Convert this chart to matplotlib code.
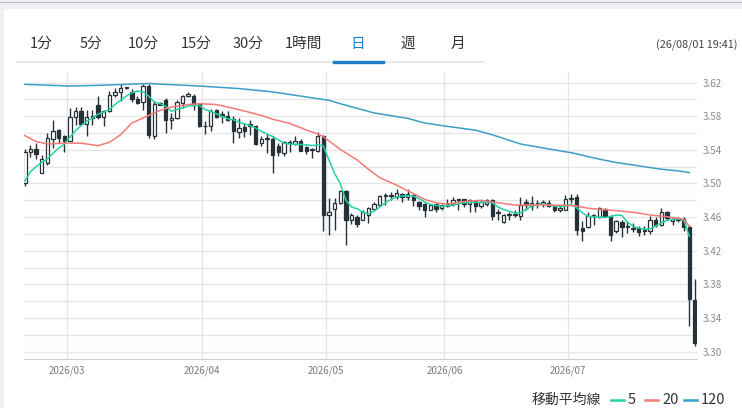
import matplotlib.pyplot as plt
from matplotlib.lines import Line2D
from matplotlib.patches import Rectangle
import numpy as np

plt.rcParams['font.family'] = ['Noto Sans CJK JP', 'DejaVu Sans']

W, H = 742, 408

# daily OHLC, one entry per candle
opens = [
    3.500, 3.537, 3.541, 3.513, 3.524, 3.553, 3.564, 3.556, 3.551, 3.579,
    3.586, 3.571, 3.578, 3.593, 3.579, 3.586, 3.605, 3.609, 3.614, 3.609,
    3.601, 3.597, 3.616, 3.557, 3.596, 3.599, 3.575, 3.578, 3.596, 3.604,
    3.604, 3.595, 3.569, 3.569, 3.588, 3.583, 3.580, 3.577, 3.561, 3.567,
    3.571, 3.569, 3.548, 3.553, 3.553, 3.545, 3.536, 3.548, 3.547, 3.550,
    3.544, 3.540, 3.539, 3.557, 3.463, 3.470, 3.477, 3.491, 3.456, 3.460,
    3.457, 3.462, 3.470, 3.474, 3.485, 3.485, 3.484, 3.488, 3.484, 3.486,
    3.478, 3.476, 3.469, 3.475, 3.471, 3.473, 3.476, 3.481, 3.481, 3.476,
    3.479, 3.473, 3.476, 3.480, 3.466, 3.454, 3.462, 3.464, 3.461, 3.478,
    3.473, 3.476, 3.476, 3.477, 3.473, 3.468, 3.469, 3.482, 3.484, 3.447,
    3.448, 3.462, 3.460, 3.470, 3.461, 3.443, 3.454, 3.448, 3.447, 3.447,
    3.445, 3.443, 3.457, 3.451, 3.466, 3.455, 3.458, 3.458, 3.448, 3.361,
]
highs = [
    3.541, 3.546, 3.548, 3.534, 3.560, 3.575, 3.565, 3.558, 3.590, 3.591,
    3.591, 3.587, 3.587, 3.604, 3.588, 3.610, 3.614, 3.618, 3.615, 3.612,
    3.604, 3.619, 3.618, 3.598, 3.597, 3.602, 3.584, 3.599, 3.605, 3.609,
    3.606, 3.596, 3.574, 3.589, 3.589, 3.586, 3.586, 3.580, 3.578, 3.572,
    3.576, 3.570, 3.557, 3.559, 3.556, 3.548, 3.550, 3.552, 3.556, 3.553,
    3.545, 3.542, 3.561, 3.558, 3.483, 3.483, 3.492, 3.492, 3.465, 3.463,
    3.468, 3.472, 3.478, 3.486, 3.489, 3.490, 3.493, 3.489, 3.493, 3.487,
    3.479, 3.477, 3.476, 3.477, 3.476, 3.481, 3.484, 3.482, 3.482, 3.482,
    3.480, 3.480, 3.481, 3.481, 3.470, 3.464, 3.466, 3.469, 3.484, 3.482,
    3.485, 3.480, 3.480, 3.480, 3.474, 3.473, 3.486, 3.488, 3.487, 3.455,
    3.466, 3.464, 3.472, 3.471, 3.462, 3.456, 3.457, 3.455, 3.453, 3.449,
    3.449, 3.461, 3.460, 3.471, 3.467, 3.460, 3.460, 3.460, 3.450, 3.386,
]
lows = [
    3.497, 3.531, 3.529, 3.512, 3.522, 3.542, 3.548, 3.537, 3.550, 3.570,
    3.570, 3.557, 3.570, 3.577, 3.569, 3.585, 3.603, 3.598, 3.613, 3.597,
    3.595, 3.587, 3.554, 3.553, 3.593, 3.560, 3.565, 3.577, 3.590, 3.603,
    3.588, 3.567, 3.559, 3.562, 3.578, 3.572, 3.574, 3.548, 3.554, 3.555,
    3.558, 3.546, 3.545, 3.536, 3.513, 3.533, 3.533, 3.538, 3.546, 3.539,
    3.535, 3.530, 3.538, 3.443, 3.439, 3.445, 3.476, 3.427, 3.452, 3.448,
    3.456, 3.453, 3.468, 3.473, 3.474, 3.480, 3.482, 3.478, 3.480, 3.473,
    3.469, 3.460, 3.468, 3.466, 3.469, 3.472, 3.473, 3.468, 3.472, 3.466,
    3.466, 3.471, 3.473, 3.457, 3.457, 3.453, 3.457, 3.460, 3.456, 3.469,
    3.469, 3.471, 3.472, 3.472, 3.466, 3.466, 3.468, 3.477, 3.439, 3.431,
    3.447, 3.450, 3.459, 3.460, 3.432, 3.441, 3.436, 3.441, 3.442, 3.438,
    3.439, 3.440, 3.448, 3.449, 3.457, 3.450, 3.454, 3.444, 3.330, 3.306,
]
closes = [
    3.538, 3.541, 3.535, 3.529, 3.554, 3.563, 3.554, 3.551, 3.579, 3.586,
    3.571, 3.579, 3.580, 3.579, 3.586, 3.605, 3.609, 3.614, 3.614, 3.601,
    3.596, 3.616, 3.558, 3.595, 3.594, 3.575, 3.578, 3.597, 3.604, 3.607,
    3.593, 3.568, 3.568, 3.586, 3.579, 3.580, 3.576, 3.562, 3.566, 3.563,
    3.568, 3.547, 3.553, 3.554, 3.534, 3.537, 3.549, 3.549, 3.550, 3.539,
    3.539, 3.540, 3.556, 3.462, 3.466, 3.477, 3.491, 3.456, 3.463, 3.452,
    3.466, 3.471, 3.475, 3.485, 3.485, 3.486, 3.489, 3.484, 3.487, 3.480,
    3.473, 3.468, 3.474, 3.470, 3.474, 3.476, 3.480, 3.480, 3.476, 3.480,
    3.473, 3.478, 3.480, 3.461, 3.465, 3.463, 3.464, 3.462, 3.474, 3.474,
    3.477, 3.476, 3.478, 3.473, 3.469, 3.471, 3.482, 3.482, 3.445, 3.443,
    3.461, 3.461, 3.471, 3.461, 3.439, 3.455, 3.448, 3.448, 3.446, 3.442,
    3.443, 3.457, 3.450, 3.466, 3.459, 3.458, 3.457, 3.448, 3.362, 3.310,
]

# moving averages as drawn
ma5 = [
    3.503, 3.514, 3.520, 3.525, 3.529, 3.536, 3.542, 3.547, 3.555, 3.563,
    3.569, 3.574, 3.578, 3.5825, 3.585, 3.588, 3.594, 3.599, 3.604, 3.608,
    3.610, 3.609, 3.604, 3.597, 3.595, 3.592, 3.586, 3.588, 3.590, 3.592,
    3.593, 3.593, 3.588, 3.586, 3.583, 3.580, 3.577, 3.576, 3.573, 3.571,
    3.569, 3.566, 3.562, 3.559, 3.556, 3.552, 3.548, 3.547, 3.5465, 3.5465,
    3.546, 3.545, 3.546, 3.545, 3.528, 3.512, 3.500, 3.480, 3.472, 3.470,
    3.466, 3.464, 3.467, 3.472, 3.477, 3.481, 3.484, 3.485, 3.4855, 3.485,
    3.482, 3.478, 3.475, 3.474, 3.473, 3.4735, 3.474, 3.476, 3.477, 3.4775,
    3.4775, 3.4775, 3.4775, 3.477, 3.472, 3.469, 3.467, 3.465, 3.465, 3.469,
    3.473, 3.475, 3.4755, 3.4745, 3.473, 3.4725, 3.473, 3.475, 3.471, 3.465,
    3.461, 3.4605, 3.4597, 3.4595, 3.4605, 3.4625, 3.462, 3.454, 3.449, 3.447,
    3.4455, 3.446, 3.4495, 3.453, 3.456, 3.4575, 3.4578, 3.4565, 3.437,
]
ma20_idx = [0, 2, 4, 7, 10, 13, 15, 17, 19, 21, 24, 26, 29, 31, 34, 37, 40,
            42, 44, 47, 50, 52, 53, 56, 59, 61, 63, 66, 69, 71, 73, 75, 78,
            81, 84, 87, 90, 93, 96, 98, 100, 102, 105, 108, 111, 114, 117, 118]
ma20_val = [3.557, 3.550, 3.547, 3.548, 3.548, 3.545, 3.549, 3.558, 3.572,
            3.578, 3.587, 3.591, 3.594, 3.595, 3.594, 3.5895, 3.5845, 3.581,
            3.5765, 3.5716, 3.5636, 3.559, 3.5557, 3.5406, 3.528, 3.517,
            3.507, 3.498, 3.488, 3.481, 3.477, 3.4755, 3.4785, 3.480, 3.477,
            3.4744, 3.4744, 3.4744, 3.474, 3.4732, 3.4705, 3.4693, 3.4677,
            3.4657, 3.4625, 3.4605, 3.4574, 3.449]
ma120_idx = [0, 8, 14, 22, 31, 38, 44, 50, 54, 56, 62, 68, 71, 75, 80, 83,
             88, 94, 97, 102, 105, 109, 113, 116, 118]
ma120_val = [3.618, 3.616, 3.617, 3.619, 3.616, 3.613, 3.609, 3.603, 3.599,
             3.595, 3.584, 3.5775, 3.572, 3.568, 3.5635, 3.558, 3.547, 3.540,
             3.5367, 3.529, 3.525, 3.521, 3.517, 3.515, 3.513]

# first candle of each month
month_first_idx = [8, 32, 54, 75, 97]
month_labels = ["2026/03", "2026/04", "2026/05", "2026/06", "2026/07"]

tabs = ["1分", "5分", "10分", "15分", "30分", "1時間", "日", "週", "月"]
tab_x = [41, 91, 143, 196, 248, 303, 358, 408, 458]
active_tab = "日"
timestamp = "(26/08/01 19:41)"

DARK = "#263238"
GRID = "#e6e6e6"
C5, C20, C120 = "#22d3a6", "#f47a7a", "#3c9fc6"


def fx(x):
    return x / W


def fy(y):
    return 1 - y / H


fig = plt.figure(figsize=(W / 100, H / 100), dpi=100)
fig.patch.set_facecolor("#eef0f3")
fig.patches.append(Rectangle((fx(4), 0), 1, fy(9), transform=fig.transFigure,
                             facecolor="white", edgecolor="none", zorder=-2))
fig.patches.append(Rectangle((0, fy(3)), 1, 1.5 / H, transform=fig.transFigure,
                             facecolor="#b9bcc0", edgecolor="none", zorder=-2))

# tab bar
for label, x in zip(tabs, tab_x):
    col = "#1a7fc8" if label == active_tab else "#333333"
    fig.text(fx(x), fy(44), label, ha="center", va="center", fontsize=10.5, color=col)
fig.add_artist(Line2D([fx(17), fx(483)], [fy(62), fy(62)], color="#e9e9e9", lw=1.6))
fig.add_artist(Line2D([fx(334), fx(383)], [fy(62), fy(62)], color="#1a7fc8", lw=2.4))
fig.text(fx(737), fy(45), timestamp, ha="right", va="center", fontsize=7.8, color="#444444")

ax = fig.add_axes([fx(24), fy(359), (697 - 24) / W, (359 - 72) / H])
ax.set_zorder(1)
ax.set_facecolor("white")
idx = np.arange(len(opens))
o, h, l, c = map(np.array, (opens, highs, lows, closes))

ax.vlines(idx, l, h, color=DARK, lw=1.0, zorder=3)
bottoms = np.minimum(o, c)
heights = np.maximum(np.abs(c - o), 0.0009)
faces = ["white" if cc >= oo else DARK for oo, cc in zip(o, c)]
ax.bar(idx, heights, bottom=bottoms, width=0.6, color=faces, edgecolor=DARK,
       linewidth=0.9, zorder=4)

ax.plot(np.arange(len(ma5)), ma5, color=C5, lw=1.1, zorder=5)
ax.plot(ma20_idx, ma20_val, color=C20, lw=1.1, zorder=5)
ax.plot(ma120_idx, ma120_val, color=C120, lw=1.1, zorder=5)

ax.set_xlim(-0.15, 119.35)
ax.set_ylim(3.2911, 3.6327)

ax.yaxis.tick_right()
ax.set_yticks(np.arange(3.30, 3.621, 0.04))
ax.set_yticks(np.arange(3.32, 3.61, 0.04), minor=True)
ax.set_yticklabels([f"{v:.2f}" for v in np.arange(3.30, 3.621, 0.04)])
ax.set_xticks([m - 0.5 for m in month_first_idx])
ax.set_xticklabels(month_labels)
ax.tick_params(axis="y", which="both", length=0, pad=4, labelsize=7, labelcolor="#8a8a8a")
ax.tick_params(axis="x", length=0, pad=5, labelsize=7, labelcolor="#7a7a7a")
ax.grid(axis="y", which="both", color=GRID, lw=1.0, zorder=0)
ax.grid(axis="x", color=GRID, lw=1.0, zorder=0)
ax.set_axisbelow(True)
for side in ("top", "left", "right"):
    ax.spines[side].set_visible(False)
ax.spines["bottom"].set_color("#c8d0da")

# legend
fig.text(fx(601), fy(400), "移動平均線", ha="right", va="center", fontsize=10, color="#333333")
for (x0, x1, tx, lab, col) in [(611, 624, 628, "5", C5), (645, 658, 662, "20", C20),
                               (684, 697, 701, "120", C120)]:
    fig.add_artist(Line2D([fx(x0), fx(x1)], [fy(400), fy(400)], color=col, lw=1.8))
    fig.text(fx(tx), fy(400), lab, ha="left", va="center", fontsize=10.5, color="#333333")

fig.savefig("out.png", dpi=100, facecolor=fig.get_facecolor())
